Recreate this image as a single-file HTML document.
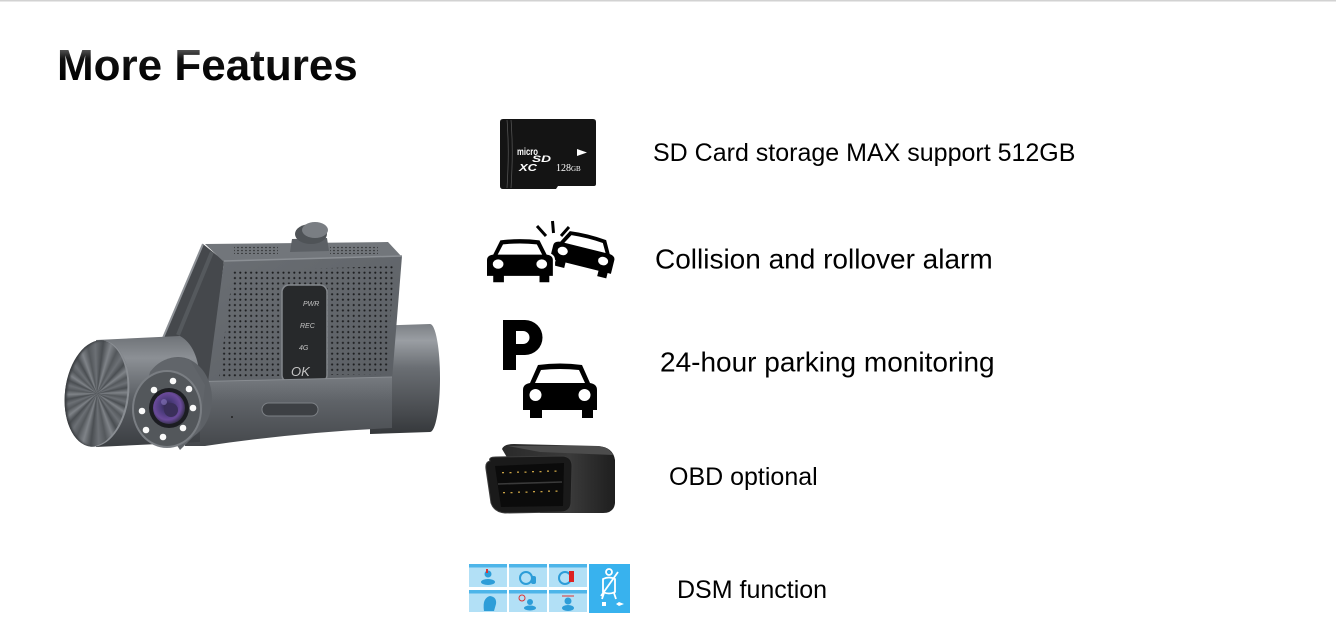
<!DOCTYPE html>
<html><head><meta charset="utf-8">
<style>
html,body{margin:0;padding:0;background:#fff;}
body{width:1336px;height:633px;position:relative;overflow:hidden;font-family:"Liberation Sans",Arial,sans-serif;}
svg{position:absolute;left:0;top:0;}
.disc{position:absolute;left:65px;top:340px;width:64px;height:107px;border-radius:50%;
background:repeating-conic-gradient(from 0deg at 50% 50%,#4a4e52 0deg,#7f8388 9deg,#54585c 18deg,#6c7075 27deg,#4a4e52 36deg);
transform:rotate(7deg);box-shadow:inset -2px 0 0 #8a8e93, inset 2px 0 2px #3a3d40;}
</style></head><body>
<svg width="1336" height="633" viewBox="0 0 1336 633">
<defs>
<linearGradient id="tg" x1="0" y1="47" x2="0" y2="81" gradientUnits="userSpaceOnUse">
<stop offset="0" stop-color="#666"/><stop offset="0.35" stop-color="#111"/><stop offset="1" stop-color="#000"/>
</linearGradient>
<linearGradient id="cylR" x1="0" y1="0" x2="0" y2="1">
<stop offset="0" stop-color="#7c8085"/><stop offset="0.15" stop-color="#9a9ea3"/><stop offset="0.4" stop-color="#6a6e73"/><stop offset="0.8" stop-color="#484b4f"/><stop offset="1" stop-color="#35383b"/>
</linearGradient>
<linearGradient id="cylL" x1="0" y1="0" x2="0" y2="1">
<stop offset="0" stop-color="#6f7378"/><stop offset="0.2" stop-color="#8c9095"/><stop offset="0.55" stop-color="#5c6065"/><stop offset="1" stop-color="#3b3e42"/>
</linearGradient>
<linearGradient id="bot" x1="0" y1="0" x2="0" y2="1">
<stop offset="0" stop-color="#777b80"/><stop offset="0.35" stop-color="#5f6368"/><stop offset="1" stop-color="#45484c"/>
</linearGradient>
<linearGradient id="face" x1="0" y1="0" x2="1" y2="1">
<stop offset="0" stop-color="#6a6e73"/><stop offset="1" stop-color="#5b5f64"/>
</linearGradient>
<linearGradient id="obd" x1="0" y1="0" x2="1" y2="0">
<stop offset="0" stop-color="#2a2a2a"/><stop offset="0.6" stop-color="#3a3a3a"/><stop offset="1" stop-color="#1e1e1e"/>
</linearGradient>
<radialGradient id="lens" cx="0.45" cy="0.45" r="0.6">
<stop offset="0" stop-color="#2a2440"/><stop offset="0.35" stop-color="#4a3a7a"/><stop offset="0.7" stop-color="#6a4a9a"/><stop offset="1" stop-color="#2a2a3a"/>
</radialGradient>
<pattern id="dots" x="0" y="0" width="5.4" height="5.4" patternUnits="userSpaceOnUse">
<circle cx="2.7" cy="2.7" r="1.05" fill="#1c1d1f"/>
</pattern>
<pattern id="dots2" x="0" y="0" width="4" height="3" patternUnits="userSpaceOnUse">
<circle cx="2" cy="1.5" r="0.8" fill="#2a2b2d"/>
</pattern>
<g id="carbody">
<path d="M15,3 Q37,0 59,3 L67,21 Q74,22 74,28 V48 H70 V56 H59 V48 H19 V56 H7 V48 H0 V28 Q0,22 7,21 Z"/>
</g>
<g id="car">
<path d="M15,3 Q37,0 59,3 L67,21 Q74,22 74,28 V48 H70 V56 H59 V48 H19 V56 H7 V48 H0 V28 Q0,22 7,21 Z" fill="#000"/>
<path d="M18,8 Q37,6 56,8 L62,21 H12 Z" fill="#fff"/>
<circle cx="12.5" cy="33" r="6" fill="#fff"/>
<circle cx="61.5" cy="33" r="6" fill="#fff"/>
</g>
</defs>

<rect x="0" y="0" width="1336" height="1.5" fill="#d2d2d2"/>

<text x="57" y="80" font-family="Liberation Sans, Arial, sans-serif" font-weight="bold" font-size="44" fill="url(#tg)">More Features</text>

<g font-family="Liberation Sans, Arial, sans-serif" fill="#000">
<text x="653" y="161" font-size="25">SD Card storage MAX support 512GB</text>
<text x="655" y="268.5" font-size="28">Collision and rollover alarm</text>
<text x="660" y="371.5" font-size="28">24-hour parking monitoring</text>
<text x="669" y="485" font-size="25">OBD optional</text>
<text x="677" y="598" font-size="25">DSM function</text>
</g>

<!-- SD card -->
<path d="M503,119 H593 Q596,119 596,122 V184 Q596,186 594,186 H558 L556,189 H503 Q500,189 500,186 V122 Q500,119 503,119 Z" fill="#141414"/>
<path d="M507,120 Q509.5,150 507,188 M511,120 Q513.5,150 511,188" stroke="#5a5a5a" stroke-width="0.7" fill="none"/>
<text x="517" y="155" font-family="Liberation Sans, Arial, sans-serif" font-weight="bold" font-size="10" fill="#fff" textLength="21" lengthAdjust="spacingAndGlyphs">micro</text>
<text x="532" y="162" font-family="Liberation Sans, Arial, sans-serif" font-weight="bold" font-style="italic" font-size="9" fill="#fff" textLength="19" lengthAdjust="spacingAndGlyphs">SD</text>
<text x="519" y="171" font-family="Liberation Sans, Arial, sans-serif" font-weight="bold" font-style="italic" font-size="10" fill="#fff" textLength="18" lengthAdjust="spacingAndGlyphs">XC</text>
<text x="556" y="171" font-family="Liberation Serif, serif" font-size="10" fill="#fff">128<tspan font-size="7">GB</tspan></text>
<polygon points="577,149 587,152.5 577,156" fill="#fff"/>

<!-- collision -->
<g transform="translate(558,226) rotate(14) scale(0.85,0.7)"><use href="#car"/></g>
<g transform="translate(487,238) scale(0.89,0.79)">
<use href="#carbody" fill="#fff" stroke="#fff" stroke-width="5"/>
<use href="#car"/>
</g>
<path d="M537,226 L546,236 M552.5,221 L553.5,233 M569,227 L561,236" stroke="#000" stroke-width="3" fill="none"/>

<!-- parking -->
<path fill-rule="evenodd" fill="#000" d="M503,320 H525 A17.5,17.5 0 0 1 525,355 H516 V370 H503 Z M516,331 H523 A6.5,6.5 0 0 1 523,344 H516 Z"/>
<g transform="translate(523,362)"><use href="#car"/></g>

<!-- OBD -->
<path d="M502,449 Q504,444 514,444 L598,446 Q613,447 615,460 V503 Q614,513 603,513 H540 Z" fill="url(#obd)"/>
<path d="M508,446 L598,446 Q609,447 613,455 L540,452 Z" fill="#4c4c4c"/>
<path d="M490,461 Q488,457 496,457 L563,456 Q572,457 572,466 L571,503 Q570,512 561,512 L505,513 Q494,512 491,503 L486,469 Q485,462 490,461 Z" fill="#1a1a1a" stroke="#3c3c3c" stroke-width="1"/>
<path d="M495,466 L564,463 L563,506 L501,507 Z" fill="#0b0b0b"/>
<path d="M498,484 L562,482" stroke="#3a3a3a" stroke-width="1.5"/>
<g fill="#c9a244">
<rect x="502" y="472" width="2" height="1.3"/><rect x="509.5" y="472" width="2" height="1.3"/><rect x="517" y="471.5" width="2" height="1.3"/><rect x="524.5" y="471.5" width="2" height="1.3"/><rect x="532" y="471" width="2" height="1.3"/><rect x="539.5" y="471" width="2" height="1.3"/><rect x="547" y="470.5" width="2" height="1.3"/><rect x="554.5" y="470.5" width="2" height="1.3"/>
<rect x="503" y="492" width="2" height="1.3"/><rect x="510.5" y="492" width="2" height="1.3"/><rect x="518" y="491.5" width="2" height="1.3"/><rect x="525.5" y="491.5" width="2" height="1.3"/><rect x="533" y="491" width="2" height="1.3"/><rect x="540.5" y="491" width="2" height="1.3"/><rect x="548" y="490.5" width="2" height="1.3"/><rect x="555.5" y="490.5" width="2" height="1.3"/>
</g>

<!-- DSM tiles -->
<g>
<rect x="469" y="564" width="38" height="23" fill="#b2e0f6"/><rect x="469" y="564" width="38" height="3.5" fill="#4db5e9"/>
<rect x="509" y="564" width="38" height="23" fill="#b2e0f6"/><rect x="509" y="564" width="38" height="3.5" fill="#4db5e9"/>
<rect x="549" y="564" width="38" height="23" fill="#b2e0f6"/><rect x="549" y="564" width="38" height="3.5" fill="#4db5e9"/>
<rect x="469" y="590" width="38" height="22" fill="#b2e0f6"/><rect x="469" y="590" width="38" height="3.5" fill="#4db5e9"/>
<rect x="509" y="590" width="38" height="22" fill="#b2e0f6"/><rect x="509" y="590" width="38" height="3.5" fill="#4db5e9"/>
<rect x="549" y="590" width="38" height="22" fill="#b2e0f6"/><rect x="549" y="590" width="38" height="3.5" fill="#4db5e9"/>
<g fill="#2d9dd8">
<circle cx="488" cy="574" r="3.5"/><ellipse cx="488" cy="582" rx="7" ry="3"/><rect x="486" y="569" width="2" height="4" fill="#d33"/>
<circle cx="526" cy="578" r="6" fill="none" stroke="#2d9dd8" stroke-width="2"/><rect x="531" y="576" width="5" height="8" rx="2"/>
<circle cx="565" cy="578" r="6" fill="none" stroke="#2d9dd8" stroke-width="2"/><rect x="569" y="571" width="5" height="11" fill="#d22"/>
<path d="M484,611 Q482,598 490,596 Q497,597 496,604 L494,611 Z"/>
<circle cx="522" cy="598" r="3" fill="none" stroke="#d33" stroke-width="1"/><circle cx="530" cy="602" r="3"/><ellipse cx="530" cy="608" rx="6" ry="2.5"/>
<circle cx="568" cy="601" r="3.5"/><ellipse cx="568" cy="608" rx="6" ry="3"/><path d="M562,596 H574" stroke="#d33" stroke-width="1"/>
</g>
<rect x="589" y="564" width="41" height="49" fill="#38b2ee"/>
<g fill="none" stroke="#fff" stroke-width="1.8">
<circle cx="609" cy="572" r="3"/>
<path d="M603,579 Q609,576 615,579 L615,592 Q609,595 603,592 Z"/>
<path d="M601,596 L618,572"/>
<path d="M604,593 L602,599 M614,593 L616,599"/>
</g>
<path d="M608,604 h8 l3,-2 l5,2 l-5,2 l-3,-2 M602,602 h4 v4 h-4 z" fill="#fff"/>
</g>

<!-- CAMERA -->
<path d="M370,326 L430,324 A10,54 0 0 1 430,432 L370,434 Z" fill="url(#cylR)"/>
<path d="M380,325 V432" stroke="#3a3d41" stroke-width="1.2"/>
<polygon points="203,244 224,261 210,382 178,360 163,338" fill="#45484c"/>
<path d="M203,244 L163,338" stroke="#8d9196" stroke-width="2"/>
<path d="M212,252 L178,335" stroke="#55595d" stroke-width="4"/>
<polygon points="205,244 388,242 402,257 224,262" fill="#72767b"/>
<rect x="234" y="246" width="44" height="8" fill="url(#dots2)"/>
<rect x="330" y="246" width="48" height="8" fill="url(#dots2)"/>
<polygon points="292,239 327,238 329,251 290,252" fill="#5c6065"/>
<ellipse cx="311" cy="234" rx="16" ry="10" fill="#4f5357"/>
<ellipse cx="315" cy="230" rx="13" ry="8" fill="#7a7e83"/>
<polygon points="224,261 402,256 392,380 208,382" fill="url(#face)"/>
<path d="M224,261 L402,256" stroke="#8b8f94" stroke-width="1.5"/>
<polygon points="233,271 394,266 387,374 219,377" fill="url(#dots)"/>
<rect x="282" y="285" width="45" height="97" rx="7" fill="#27292b" stroke="#83878c" stroke-width="1.5"/>
<g font-family="Liberation Sans, Arial, sans-serif" fill="#c4c4c4" font-style="italic">
<text x="303" y="306" font-size="7">PWR</text>
<text x="300" y="328" font-size="7">REC</text>
<text x="299" y="350" font-size="7">4G</text>
<text x="291" y="376" font-size="13">OK</text>
</g>
<path d="M185,382 L392,377 L392,428 Q300,432 205,446 L185,446 Z" fill="url(#bot)"/>
<path d="M185,382 L392,377" stroke="#888c91" stroke-width="1"/>
<rect x="262" y="403" width="56" height="13" rx="6.5" fill="#3d4044" stroke="#7c8085" stroke-width="1"/>
<circle cx="232" cy="417" r="1" fill="#222"/>
<path d="M96,340 L180,336 Q198,346 200,380 L200,442 L96,447 Z" fill="url(#cylL)"/>
<ellipse cx="178" cy="399" rx="34" ry="42" fill="#5d6166"/>
<path d="M144,395 L150,372 Q165,352 190,360 L205,385 L200,430 L180,450 Z" fill="#61656a"/>
<ellipse cx="167" cy="409" rx="35" ry="39" fill="#7a7e83"/>
<ellipse cx="167" cy="409" rx="33" ry="37" fill="#53575b"/>
<g fill="#fafafa">
<circle cx="173" cy="381" r="3.3"/><circle cx="189" cy="389" r="3.3"/><circle cx="193" cy="408" r="3.3"/><circle cx="183" cy="428" r="3.3"/>
<circle cx="163" cy="437" r="3.3"/><circle cx="146" cy="430" r="3.3"/><circle cx="142" cy="411" r="3.3"/><circle cx="154" cy="390" r="3.3"/>
</g>
<circle cx="169" cy="408" r="20" fill="#1c1d22"/>
<circle cx="169" cy="408" r="16" fill="url(#lens)"/>
<circle cx="171" cy="410" r="7" fill="#3a2f5a"/>
<circle cx="164" cy="402" r="3" fill="#8a7ac0" opacity="0.6"/>
</svg>
<div class="disc"></div>
</body></html>
